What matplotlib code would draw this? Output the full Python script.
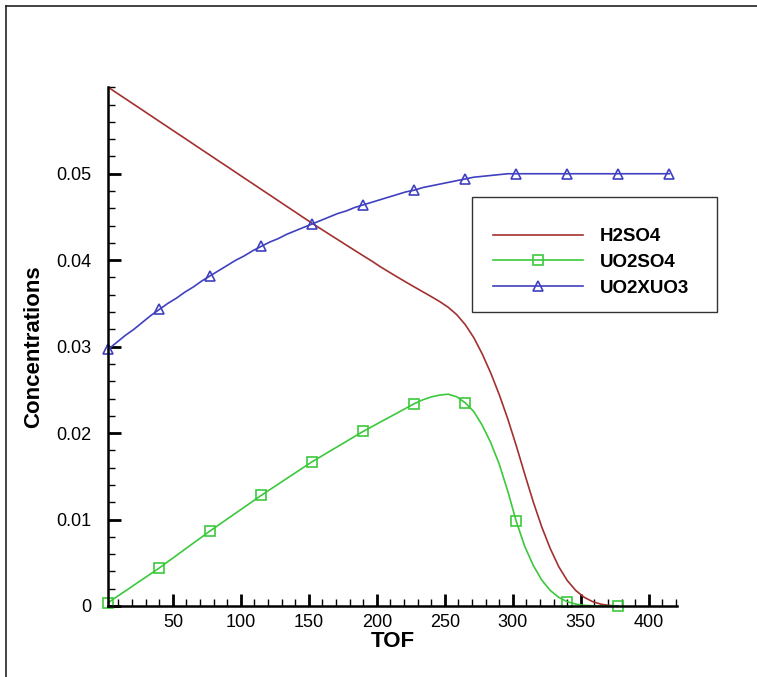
import numpy as np
import matplotlib
matplotlib.use('Agg')
import matplotlib.pyplot as plt
from matplotlib.lines import Line2D
from matplotlib.patches import Rectangle
from matplotlib.ticker import FixedLocator, MultipleLocator, FuncFormatter

# sample positions along TOF (every 6.25)
tof = np.arange(67) * 6.25 + 2.5

h2so4 = [0.06000, 0.05934, 0.05869, 0.05803, 0.05738, 0.05672, 0.05606, 0.05541, 0.05475, 0.05410,
         0.05344, 0.05278, 0.05213, 0.05147, 0.05082, 0.05016, 0.04950, 0.04885, 0.04819, 0.04754,
         0.04688, 0.04622, 0.04557, 0.04491, 0.04426, 0.04363, 0.04300, 0.04238, 0.04175, 0.04113,
         0.04051, 0.03990, 0.03925, 0.03865, 0.03806, 0.03748, 0.03691, 0.03635, 0.03579, 0.03521,
         0.03455, 0.03370, 0.03255, 0.03105, 0.02915, 0.02695, 0.02445, 0.02165, 0.01855, 0.01525,
         0.01205, 0.00915, 0.00665, 0.00455, 0.00295, 0.00180, 0.00100, 0.00050, 0.00020, 0.00006,
         0.00000]

uo2so4 = [0.00040, 0.00107, 0.00173, 0.00240, 0.00307, 0.00373, 0.00440, 0.00512, 0.00583, 0.00655,
          0.00727, 0.00798, 0.00870, 0.00938, 0.01007, 0.01075, 0.01143, 0.01212, 0.01280, 0.01345,
          0.01410, 0.01475, 0.01540, 0.01605, 0.01670, 0.01728, 0.01787, 0.01845, 0.01903, 0.01962,
          0.02020, 0.02073, 0.02127, 0.02180, 0.02233, 0.02287, 0.02340, 0.02385, 0.02418, 0.02440,
          0.02450, 0.02420, 0.02350, 0.02250, 0.02090, 0.01890, 0.01640, 0.01330, 0.00980, 0.00690,
          0.00470, 0.00300, 0.00180, 0.00100, 0.00050, 0.00022, 0.00008, 0.00002, 0.00000, 0.00000,
          0.00000]

uo2xuo3 = [0.0297, 0.0305, 0.0313, 0.0320, 0.0328, 0.0336, 0.0343, 0.0350, 0.0356, 0.0363,
           0.0369, 0.0376, 0.0382, 0.0388, 0.0394, 0.0400, 0.0405, 0.0411, 0.0416, 0.0421,
           0.0425, 0.0430, 0.0434, 0.0438, 0.0442, 0.0446, 0.0450, 0.0454, 0.0457, 0.0461,
           0.0464, 0.0467, 0.0470, 0.0473, 0.0476, 0.0479, 0.0481, 0.0484, 0.0486, 0.0488,
           0.0490, 0.0492, 0.0494, 0.0496, 0.0497, 0.0498, 0.0499, 0.0500, 0.0500, 0.0500,
           0.0500, 0.0500, 0.0500, 0.0500, 0.0500, 0.0500, 0.0500, 0.0500, 0.0500, 0.0500,
           0.0500, 0.0500, 0.0500, 0.0500, 0.0500, 0.0500, 0.0500]

x_ticks = [50, 100, 150, 200, 250, 300, 350, 400]
y_ticks = [0, 0.01, 0.02, 0.03, 0.04, 0.05]

plt.rcParams['font.family'] = ['Liberation Sans', 'DejaVu Sans']

W, H = 757, 677
fig = plt.figure(figsize=(W / 100, H / 100), dpi=100)
ax = fig.add_axes([108.3 / W, 1 - 606 / H, (676.7 - 108.3) / W, (606 - 87.3) / H])

ax.plot(tof[:len(h2so4)], h2so4, color='#a33030', lw=1.2, label='H2SO4')
ax.plot(tof[:len(uo2so4)], uo2so4, color='#3cc83c', lw=1.2, marker='s', ms=6.5,
        mfc='none', mew=1.2, markevery=6, label='UO2SO4', clip_on=False)
ax.plot(tof[:len(uo2xuo3)], uo2xuo3, color='#4040c0', lw=1.2, marker='^', ms=7,
        mfc='none', mew=1.2, markevery=6, label='UO2XUO3', clip_on=False)

ax.set_xlim(2.5, 420.5)
ax.set_ylim(0, 0.06)

ax.xaxis.set_major_locator(FixedLocator(x_ticks))
ax.xaxis.set_minor_locator(MultipleLocator(10))
ax.yaxis.set_major_locator(FixedLocator(y_ticks))
ax.yaxis.set_minor_locator(MultipleLocator(0.002))
ax.yaxis.set_major_formatter(FuncFormatter(lambda v, p: f'{v:g}'))

for s in ['top', 'right']:
    ax.spines[s].set_visible(False)
for s in ['left', 'bottom']:
    ax.spines[s].set_linewidth(1.8)

ax.tick_params(which='major', direction='in', length=9, width=2, labelsize=13)
ax.tick_params(which='minor', direction='in', length=5, width=1)
ax.tick_params(axis='y', which='major', pad=12)
ax.tick_params(axis='x', which='major', pad=6)

ax.set_xlabel('TOF', fontsize=16, fontweight='bold', labelpad=0)
ax.set_ylabel('Concentrations', fontsize=16, fontweight='bold', labelpad=9)

# legend entries without frame, the box is drawn separately
leg = ax.legend(loc='upper left', bbox_to_anchor=(493 / W, 1 - 228 / H),
                bbox_transform=fig.transFigure, handlelength=4.8,
                handletextpad=0.9, labelspacing=0.46, borderpad=0, borderaxespad=0,
                frameon=False, prop={'weight': 'bold', 'size': 13.5})
fig.add_artist(Rectangle((472 / W, 1 - 312 / H), (717 - 472) / W, (312 - 197) / H,
                         transform=fig.transFigure, fill=False, edgecolor='#333333', lw=1.0))

# outer frame of the picture (left and top edge)
fig.add_artist(Line2D([6 / W, 6 / W], [0, 1 - 6 / H], color='#222222', lw=1.2))
fig.add_artist(Line2D([6 / W, 1], [1 - 6 / H, 1 - 6 / H], color='#222222', lw=1.2))

fig.savefig('out.png', dpi=100)
